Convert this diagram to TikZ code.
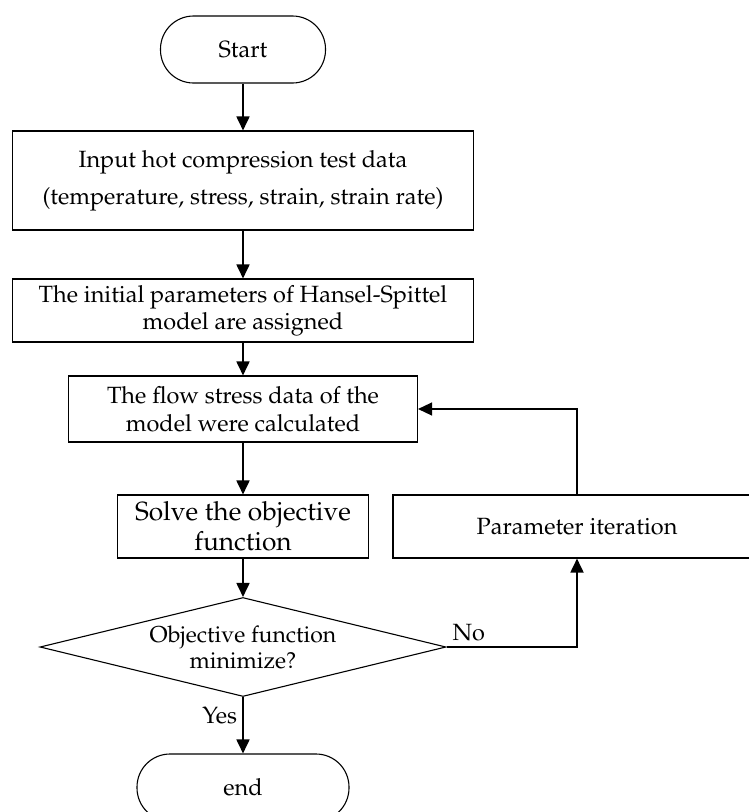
\documentclass[tikz,border=0pt]{standalone}
\usepackage[T1]{fontenc}
\usepackage{mathpazo}
\usetikzlibrary{shapes.geometric,arrows.meta}
\begin{document}
\begin{tikzpicture}[x=1pt,y=-1pt,
  box/.style={draw,line width=1.1pt,inner sep=0pt,align=center,font=\fontsize{23.5}{28}\selectfont},
  term/.style={box,rounded corners=33pt},
  arr/.style={line width=1.8pt,-{Triangle[length=14pt,width=13pt]}},
  lbl/.style={font=\fontsize{23.5}{28}\selectfont,inner sep=0pt}]
\useasboundingbox (0,0) rectangle (749,812);
\node[term,minimum width=165pt,minimum height=67pt] (start) at (243,49.5) {Start};
\node[box,minimum width=461pt,minimum height=99pt,font=\fontsize{23.5}{37}\selectfont] (input) at (243,180.5) {Input hot compression test data\\(temperature, stress, strain, strain rate)};
\node[box,minimum width=461pt,minimum height=63pt,font=\fontsize{23.5}{27}\selectfont] (hansel) at (243,310.5) {The initial parameters of Hansel-Spittel\\model are assigned};
\node[box,minimum width=349pt,minimum height=66pt] (flow) at (243,409) {The flow stress data of the\\model were calculated};
\node[box,minimum width=251pt,minimum height=63pt,font=\fontsize{26.3}{30}\selectfont] (solve) at (243,526.5) {Solve the objective\\function};
\node[box,minimum width=368pt,minimum height=63pt] (param) at (577,526.5) {Parameter iteration};
\node[draw,line width=1.1pt,diamond,minimum width=406pt,minimum height=99pt,inner sep=0pt] (dec) at (243,647) {};
\node[lbl,align=center,font=\fontsize{23}{26}\selectfont] (dectext) at (243,647) {Objective function\\minimize?};
\node[term,minimum width=212pt,minimum height=67pt] (end) at (243,787.5) {end};
\coordinate (nocorner) at (577,647);
\coordinate (fbcorner) at (577,409);
\draw[arr] (start) -- (input);
\draw[arr] (input) -- (hansel);
\draw[arr] (hansel) -- (flow);
\draw[arr] (flow) -- (solve);
\draw[arr] (solve) -- (dec);
\draw[arr] (dec.south) -- node[lbl,left=5pt,pos=0.33] (yes) {Yes} (end.north);
\draw[arr] (dec.east) -- node[lbl,above=5pt,pos=0.17] (no) {No} (nocorner) -- (param.south);
\draw[line width=1.3pt,-{Triangle[length=14pt,width=13pt]}] (param.north) -- (fbcorner) -- (flow.east);
\end{tikzpicture}
\end{document}
